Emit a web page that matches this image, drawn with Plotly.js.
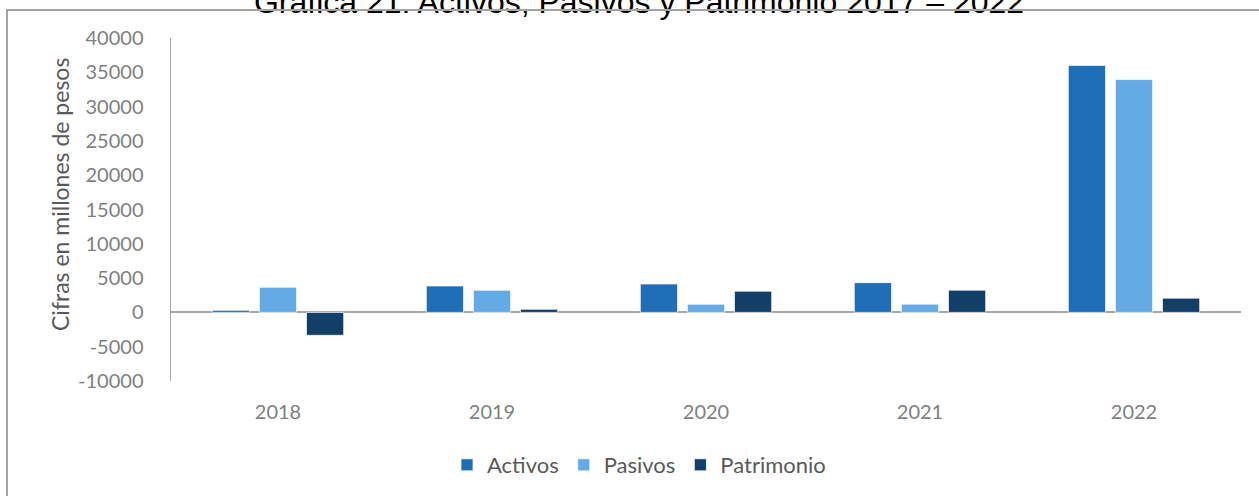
<!DOCTYPE html>
<html>
<head>
<meta charset="utf-8">
<script src="https://cdn.plot.ly/plotly-3.0.1.min.js"></script>
<style>
  html, body { margin: 0; padding: 0; background: #ffffff; }
  #wrap { position: relative; width: 1259px; height: 496px; overflow: hidden; }
  #chart { position: absolute; left: 0; top: 0; width: 1259px; height: 496px; }
  #frame { position: absolute; left: 6px; top: 9px; width: 1260px; height: 500px;
           border-left: 2px solid #a3a3a3; border-top: 2px solid #a3a3a3; pointer-events: none; }
</style>
</head>
<body>
<div id="wrap">
  <div id="chart"></div>
  <div id="frame"></div>
</div>
<script>
const years = ['2018', '2019', '2020', '2021', '2022'];
const activos = [300, 3850, 4140, 4340, 36000];
const pasivos = [3660, 3220, 1190, 1200, 33940];
const patrimonio = [-3340, 450, 3090, 3240, 2080];
const yTicks = [-10000, -5000, 0, 5000, 10000, 15000, 20000, 25000, 30000, 35000, 40000];

const barLine = { color: 'rgba(255,255,255,0.7)', width: 1 };
const traces = [
  { type: 'bar', name: 'Activos', x: years, y: activos, marker: { color: '#1f6fb8', line: barLine } },
  { type: 'bar', name: 'Pasivos', x: years, y: pasivos, marker: { color: '#64aae4', line: barLine } },
  { type: 'bar', name: 'Patrimonio', x: years, y: patrimonio, marker: { color: '#123f68', line: barLine } }
];

const fam = 'Lato, "Open Sans", sans-serif';
const tickFont = { family: fam, size: 20, color: '#7f7f7f' };

const layout = {
  width: 1259, height: 496,
  margin: { l: 171, r: 18, t: 38, b: 115, pad: 0 },
  paper_bgcolor: '#ffffff', plot_bgcolor: '#ffffff',
  barmode: 'group', bargap: 0.34, bargroupgap: 0.21,
  showlegend: true,
  title: {
    text: 'Gráfica 21. Activos, Pasivos y Patrimonio 2017 – 2022',
    font: { family: '"Liberation Sans", Arial, sans-serif', size: 32, color: '#000000' },
    x: 639 / 1259, xanchor: 'center', xref: 'container',
    y: 1 - 13 / 496, yanchor: 'bottom', yref: 'container'
  },
  xaxis: {
    type: 'category', range: [-0.5, 4.5],
    showline: false, showgrid: false, zeroline: false, ticks: '',
    tickfont: tickFont, ticklabelstandoff: 17
  },
  yaxis: {
    range: [-10000, 40000], tickvals: yTicks, ticktext: yTicks.map(String),
    showgrid: false, showline: true, linecolor: '#a6a6a6', linewidth: 1.5,
    zeroline: true, zerolinecolor: '#a6a6a6', zerolinewidth: 2,
    ticks: '', tickfont: tickFont, ticklabelstandoff: 22
  },
  annotations: [{
    text: 'Cifras en millones de pesos', textangle: -90, showarrow: false,
    xref: 'paper', yref: 'paper',
    x: (60 - 171) / 1070, y: (381 - 195) / 343, xanchor: 'center', yanchor: 'middle',
    font: { family: fam, size: 23, color: '#595959' }
  }],
  legend: {
    orientation: 'h', xref: 'container', yref: 'container',
    x: 639 / 1259, xanchor: 'center', y: 1 - 465 / 496, yanchor: 'middle',
    font: { family: fam, size: 22, color: '#595959' },
    itemwidth: 30, traceorder: 'normal'
  }
};

Plotly.newPlot('chart', traces, layout, { displayModeBar: false, staticPlot: true });
</script>
</body>
</html>
